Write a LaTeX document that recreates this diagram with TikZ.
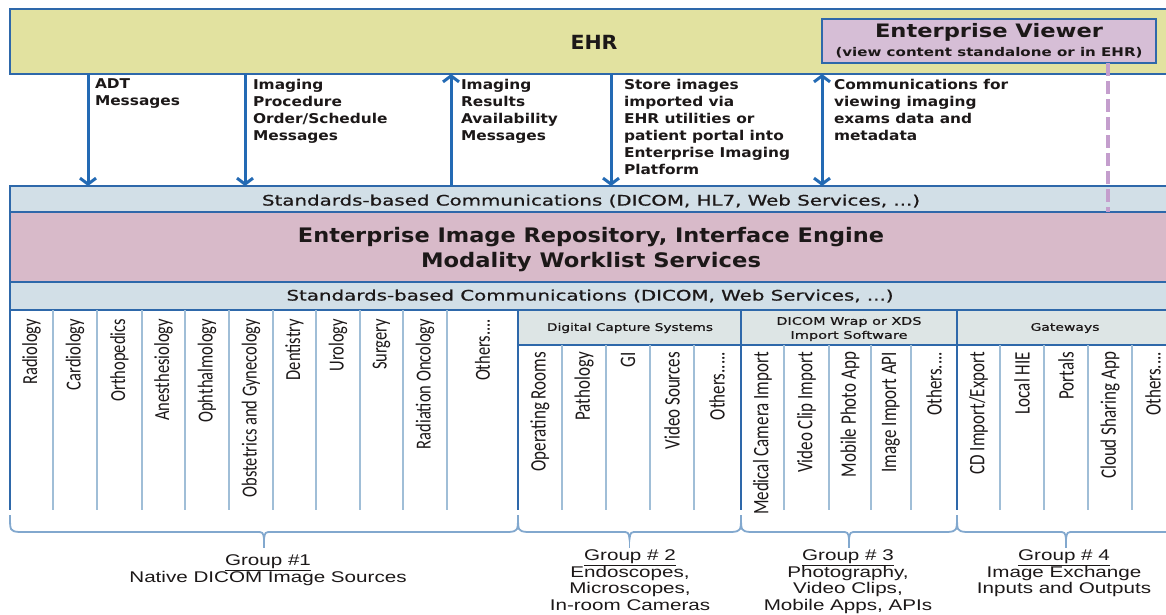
\documentclass[tikz,border=0pt]{standalone}
\usepackage{fontspec}
\usepackage{graphicx}
\usetikzlibrary{arrows.meta}
\setmainfont{DejaVu Sans}
\newfontfamily\wide[FakeStretch=1.14]{DejaVu Sans}
\newfontfamily\widemed[FakeBold=0.7]{DejaVu Sans}
\newfontfamily\narrow{Carlito}
\newfontfamily\grp[FakeStretch=1.33]{Liberation Sans}
% set a single line of text to a given width, keeping its height
\newcommand\fitw[2]{\resizebox{#1}{\height}{#2}}
% widen the strokes of an upright column label across the column
\newcommand\colword[1]{\scalebox{1}[1.3]{#1}}

\definecolor{ehrfill}{RGB}{226,226,160}
\definecolor{viewfill}{RGB}{214,190,214}
\definecolor{commfill}{RGB}{210,223,231}
\definecolor{repofill}{RGB}{216,186,201}
\definecolor{headfill}{RGB}{221,229,229}
\definecolor{edge}{RGB}{46,104,170}
\definecolor{arrowblue}{RGB}{35,106,180}
\definecolor{dashpurple}{RGB}{196,158,205}
\definecolor{divider}{RGB}{160,190,215}
\definecolor{bracecol}{RGB}{130,168,206}
\definecolor{ink}{RGB}{28,24,24}

% curly brace under a group of columns, from x=#1 to x=#2
\newcommand\groupbrace[2]{%
  \pgfmathsetmacro\bmid{(#1+#2)/2}
  \draw[bracecol, line width=1.8pt]
    (#1,515) .. controls (#1,531) .. (#1+9,532) -- (\bmid-8,532)
    .. controls (\bmid-1,532) .. (\bmid,539)
    .. controls (\bmid+1,532) .. (\bmid+8,532) -- (#2-9,532)
    .. controls (#2,531) .. (#2,515);
  \draw[bracecol, line width=1.8pt] (\bmid,538) -- (\bmid,548);
}

\begin{document}
\begin{tikzpicture}[x=1pt, y=-1pt,
  every node/.style={inner sep=0pt, outer sep=0pt, text=ink},
  band/.style={draw=edge, line width=1.8pt, anchor=north west},
  flow/.style={draw=arrowblue, line width=3pt, -{Straight Barb[length=6pt, width=16pt]}},
  flowboth/.style={draw=arrowblue, line width=3pt, {Straight Barb[length=6pt, width=16pt]}-{Straight Barb[length=6pt, width=16pt]}},
  msg/.style={anchor=north west, align=left, font=\wide\bfseries\fontsize{13.5}{17}\selectfont},
  split/.style={draw=edge, line width=2.6pt},
  thin/.style={draw=divider, line width=1.8pt},
  colA/.style={rotate=90, anchor=east, font=\narrow\fontsize{16.5}{18}\selectfont},
  colB/.style={rotate=90, anchor=east, font=\narrow\fontsize{17}{19}\selectfont},
  grouptext/.style={anchor=north, align=center, font=\grp\fontsize{15.5}{16.5}\selectfont},
  headtext/.style={font=\widemed\fontsize{10.5}{13}\selectfont, align=center},
  ]
\useasboundingbox (0,0) rectangle (1166,614);
\clip (0,0) rectangle (1166,614);

% ---------- EHR band with the enterprise viewer ----------
\node[band, fill=ehrfill, minimum width=1175pt, minimum height=65pt] (ehr) at (10,9) {};
\node[font=\wide\bfseries\fontsize{19.5}{22}\selectfont] (ehrlabel) at (594,42) {\fitw{47pt}{EHR}};
\node[band, fill=viewfill, minimum width=334pt, minimum height=44pt] (viewer) at (822,19) {};
\node[font=\wide\bfseries\fontsize{18.5}{22}\selectfont] (viewtitle) at (989,32) {\fitw{228pt}{Enterprise Viewer}};
\node[font=\wide\bfseries\fontsize{12}{14}\selectfont] (viewsub) at (989,53) {\fitw{307pt}{(view content standalone or in EHR)}};

% ---------- repository stack ----------
\node[band, fill=commfill, minimum width=1175pt, minimum height=26pt] (comm1) at (10,186) {};
\node[font=\widemed\fontsize{14.5}{17}\selectfont] (comm1text) at (591,201) {\fitw{658pt}{Standards-based Communications (DICOM, HL7, Web Services, ...)}};
\node[band, fill=repofill, minimum width=1175pt, minimum height=70pt] (repo) at (10,212) {};
\node[font=\wide\bfseries\fontsize{20}{24}\selectfont] (repo1) at (591,237) {\fitw{586pt}{Enterprise Image Repository, Interface Engine}};
\node[font=\wide\bfseries\fontsize{20}{24}\selectfont] (repo2) at (591,262) {\fitw{340pt}{Modality Worklist Services}};
\node[band, fill=commfill, minimum width=1175pt, minimum height=28pt] (comm2) at (10,282) {};
\node[font=\widemed\fontsize{14.5}{17}\selectfont] (comm2text) at (590,296) {\fitw{607pt}{Standards-based Communications (DICOM, Web Services, ...)}};

% ---------- messages between EHR and the repository ----------
\coordinate (a1) at (88,0);
\coordinate (a2) at (245,0);
\coordinate (a3) at (451,0);
\coordinate (a4) at (611,0);
\coordinate (a5) at (822,0);
\coordinate (d1) at (1108,0);
\draw[flow] (ehr.south -| a1) -- (comm1.north -| a1);
\draw[flow] (ehr.south -| a2) -- (comm1.north -| a2);
\draw[flow] (comm1.north -| a3) -- (ehr.south -| a3);
\draw[flow] (ehr.south -| a4) -- (comm1.north -| a4);
\draw[flowboth] (ehr.south -| a5) -- (comm1.north -| a5);
\draw[dashpurple, line width=4.5pt, dash pattern=on 13pt off 5pt] (viewer.south -| d1) -- (comm1.south -| d1);

\node[msg] (m1) at (95,79) {ADT\\Messages};
\node[msg] (m2) at (253,79) {Imaging\\Procedure\\Order/Schedule\\Messages};
\node[msg] (m3) at (461,79) {Imaging\\Results\\Availability\\Messages};
\node[msg] (m4) at (624,79) {Store images\\imported via\\EHR utilities or\\patient portal into\\Enterprise Imaging\\Platform};
\node[msg] (m5) at (834,79) {Communications for\\viewing imaging\\exams data and\\metadata};

% ---------- source columns ----------
\node[band, fill=headfill, minimum width=223pt, minimum height=35pt] (h2) at (518,310) {};
\node[band, fill=headfill, minimum width=216pt, minimum height=35pt] (h3) at (741,310) {};
\node[band, fill=headfill, minimum width=220pt, minimum height=35pt] (h4) at (957,310) {};
\node[headtext] (h2text) at (630,328) {\fitw{166pt}{Digital Capture Systems}};
\node[headtext] (h3text) at (849,329) {\fitw{145pt}{DICOM Wrap or XDS}\\[1pt]\fitw{117pt}{Import Software}};
\node[headtext] (h4text) at (1065,328) {\fitw{69pt}{Gateways}};

\foreach \x in {53,97,142,185,229,273,316,360,403,447}
  \draw[thin] (\x,310) -- (\x,510);
\foreach \x in {562,606,650,694,784,829,871,911,1000,1044,1088,1132}
  \draw[thin] (\x,345) -- (\x,510);
\draw[split] (10,310) -- (10,510);
\foreach \x in {518,741,957}
  \draw[split] (\x,310) -- (\x,510);

% group 1: native DICOM sources
\node[colA] (c11) at (31.5,319) {\colword{Radiology}};
\node[colA] (c12) at (75,319) {\colword{Cardiology}};
\node[colA] (c13) at (119.5,319) {\colword{Orthopedics}};
\node[colA] (c14) at (163.5,319) {\colword{Anesthesiology}};
\node[colA] (c15) at (207,319) {\colword{Ophthalmology}};
\node[colA] (c16) at (251,319) {\colword{Obstetrics and Gynecology}};
\node[colA] (c17) at (294.5,319) {\colword{Dentistry}};
\node[colA] (c18) at (338,319) {\colword{Urology}};
\node[colA] (c19) at (381.5,319) {\colword{Surgery}};
\node[colA] (c110) at (425,319) {\colword{Radiation Oncology}};
\node[colA] (c111) at (482.5,319) {\colword{Others....}};
% group 2: digital capture systems
\node[colB] (c21) at (540,352) {\colword{Operating Rooms}};
\node[colB] (c22) at (584,352) {\colword{Pathology}};
\node[colB] (c23) at (628,352) {\colword{GI}};
\node[colB] (c24) at (672,352) {\colword{Video Sources}};
\node[colB] (c25) at (717,352) {\colword{Others.....}};
% group 3: DICOM wrap / XDS import
\node[colB] (c31) at (762.5,352) {\colword{Medical Camera Import}};
\node[colB] (c32) at (806.5,352) {\colword{Video Clip Import}};
\node[colB] (c33) at (850,352) {\colword{Mobile Photo App}};
\node[colB] (c34) at (891,352) {\colword{Image Import API}};
\node[colB] (c35) at (934,352) {\colword{Others....}};
% group 4: gateways
\node[colB] (c41) at (978.5,352) {\colword{CD Import/Export}};
\node[colB] (c42) at (1022,352) {\colword{Local HIE}};
\node[colB] (c43) at (1066,352) {\colword{Portals}};
\node[colB] (c44) at (1110,352) {\colword{Cloud Sharing App}};
\node[colB] (c45) at (1153,352) {\colword{Others....}};

% ---------- group braces and captions ----------
\groupbrace{10}{518}
\groupbrace{518}{741}
\groupbrace{741}{957}
\groupbrace{957}{1175}

\node[grouptext] (g1) at (268,555) {\underline{Group \#1}\\Native DICOM Image Sources};
\node[grouptext] (g2) at (630,550) {\underline{Group \# 2}\\Endoscopes,\\Microscopes,\\In-room Cameras};
\node[grouptext] (g3) at (848,550) {\underline{Group \# 3}\\Photography,\\Video Clips,\\Mobile Apps, APIs};
\node[grouptext] (g4) at (1064,550) {\underline{Group \# 4}\\Image Exchange\\Inputs and Outputs};
\end{tikzpicture}
\end{document}
